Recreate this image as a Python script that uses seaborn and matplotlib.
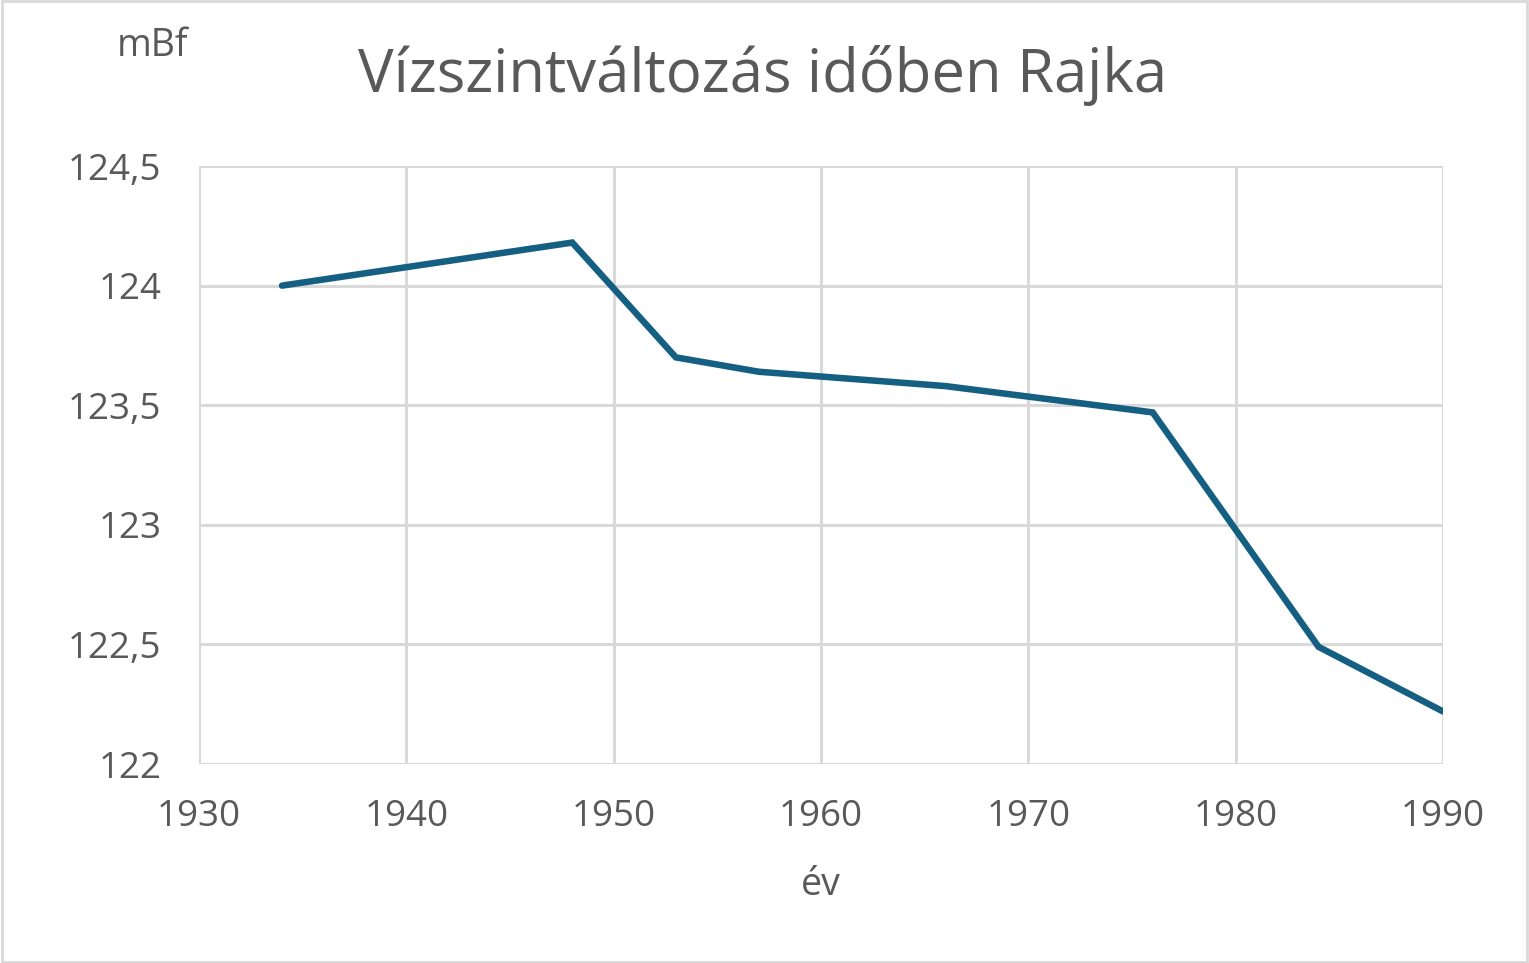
import pandas as pd
import seaborn as sns
import matplotlib.pyplot as plt
from matplotlib.patches import Rectangle

# Vízszint Rajkánál (mBf)
ev = [1934, 1948, 1953, 1957, 1966, 1976, 1984, 1990]
vizszint = [124.0, 124.18, 123.70, 123.64, 123.58, 123.47, 122.49, 122.22]

x_ticks = [1930, 1940, 1950, 1960, 1970, 1980, 1990]
y_ticks = [122, 122.5, 123, 123.5, 124, 124.5]
y_labels = ["122", "122,5", "123", "123,5", "124", "124,5"]

df = pd.DataFrame({"ev": ev, "vizszint": vizszint})

sns.set_theme(style="white")
plt.rcParams["font.family"] = ["Open Sans", "DejaVu Sans"]
text_col = "#595959"
grid_col = "#d9d9d9"

fig = plt.figure(figsize=(15.29, 9.63), dpi=100)
ax = fig.add_axes([0.1302, 0.2066, 0.8135, 0.621])

sns.lineplot(data=df, x="ev", y="vizszint", color="#156082", linewidth=4.7, ax=ax,
             solid_joinstyle="miter")

ax.set_xlim(1930, 1990)
ax.set_ylim(122, 124.5)
ax.set_xticks(x_ticks)
ax.set_yticks(y_ticks)
ax.set_yticklabels(y_labels)
ax.grid(True, color=grid_col, linewidth=2.2)
ax.set_axisbelow(True)
for s in ax.spines.values():
    s.set_visible(False)
ax.tick_params(axis="both", length=0, labelsize=26.5, labelcolor=text_col, pad=27)
ax.tick_params(axis="x", pad=25)
ax.set_xlabel("")
ax.set_ylabel("")

fig.text(0.499, 0.922, "Vízszintváltozás időben Rajka", ha="center", va="center",
         fontsize=43, color=text_col)
fig.text(0.0995, 0.952, "mBf", ha="center", va="center", fontsize=27, color=text_col)
fig.text(0.537, 0.081, "év", ha="center", va="center", fontsize=27, color=text_col)

# szürke keret a diagram körül
fig.patches.append(Rectangle((0.001, 0.001), 0.998, 0.998, transform=fig.transFigure,
                             fill=False, edgecolor=grid_col, linewidth=2))

fig.savefig("out.png", dpi=100, facecolor="white")
